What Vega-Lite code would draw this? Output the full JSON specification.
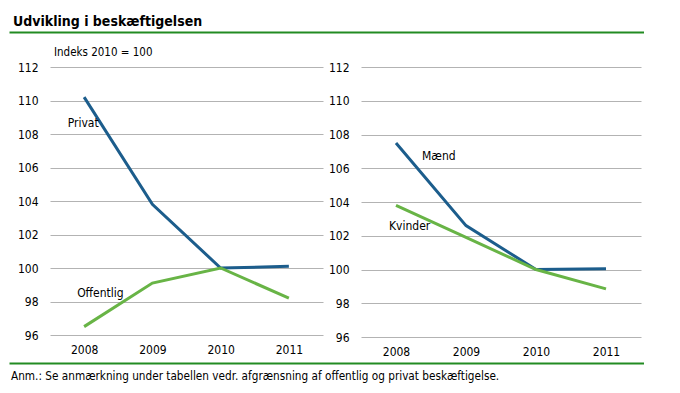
{
  "$schema": "https://vega.github.io/schema/vega-lite/v6.json",
  "background": "white",
  "padding": {"left": 8, "top": 15, "right": 0, "bottom": 0},
  "config": {
    "font": "DejaVu Sans Condensed, Liberation Sans, sans-serif",
    "view": {"stroke": null},
    "axis": {"labelFont": "DejaVu Sans Condensed, Liberation Sans, sans-serif", "labelFontSize": 12, "labelColor": "#000000", "ticks": false, "domain": false, "title": null, "gridColor": "#b3b3b3", "gridWidth": 1},
    "title": {"font": "DejaVu Sans Condensed, Liberation Sans, sans-serif", "color": "#000000"},
    "text": {"font": "DejaVu Sans Condensed, Liberation Sans, sans-serif"}
  },
  "datasets": {
    "beskaeft": [
      {"panel": "Sektor", "serie": "Privat", "aar": "2008", "value": 110.2},
      {"panel": "Sektor", "serie": "Privat", "aar": "2009", "value": 103.8},
      {"panel": "Sektor", "serie": "Privat", "aar": "2010", "value": 100.0},
      {"panel": "Sektor", "serie": "Privat", "aar": "2011", "value": 100.1},
      {"panel": "Sektor", "serie": "Offentlig", "aar": "2008", "value": 96.5},
      {"panel": "Sektor", "serie": "Offentlig", "aar": "2009", "value": 99.1},
      {"panel": "Sektor", "serie": "Offentlig", "aar": "2010", "value": 100.0},
      {"panel": "Sektor", "serie": "Offentlig", "aar": "2011", "value": 98.2},
      {"panel": "Koen", "serie": "Mænd", "aar": "2008", "value": 107.5},
      {"panel": "Koen", "serie": "Mænd", "aar": "2009", "value": 102.6},
      {"panel": "Koen", "serie": "Mænd", "aar": "2010", "value": 100.0},
      {"panel": "Koen", "serie": "Mænd", "aar": "2011", "value": 100.05},
      {"panel": "Koen", "serie": "Kvinder", "aar": "2008", "value": 103.8},
      {"panel": "Koen", "serie": "Kvinder", "aar": "2009", "value": 101.9},
      {"panel": "Koen", "serie": "Kvinder", "aar": "2010", "value": 100.0},
      {"panel": "Koen", "serie": "Kvinder", "aar": "2011", "value": 98.85}
    ],
    "labels": [
      {"panel": "Sektor", "label": "Privat", "aar": "2008", "value": 108.65},
      {"panel": "Sektor", "label": "Offentlig", "aar": "2008", "value": 98.5},
      {"panel": "Koen", "label": "Mænd", "aar": "2008", "value": 106.7},
      {"panel": "Koen", "label": "Kvinder", "aar": "2008", "value": 102.55}
    ]
  },
  "vconcat": [
    {
      "width": 635,
      "height": 1,
      "title": {"text": "Udvikling i beskæftigelsen", "anchor": "start", "frame": "group", "dx": 4, "offset": 2, "fontSize": 14, "fontWeight": "bold"},
      "data": {"name": "labels"},
      "mark": {"type": "rule", "opacity": 0},
      "encoding": {
        "x": {"field": "value", "type": "quantitative", "axis": {"orient": "bottom", "domain": true, "domainColor": "#228b22", "domainWidth": 2, "labels": false, "grid": false, "ticks": false}}
      }
    },
    {
      "vconcat": [
        {
          "hconcat": [
            {
              "width": 3,
              "height": 268,
              "data": {"name": "labels"},
              "mark": {"type": "rule", "opacity": 0},
              "encoding": {}
            },
            {
              "width": 273,
              "height": 268,
              "title": {"text": "Indeks 2010 = 100", "anchor": "start", "frame": "group", "dx": 4, "offset": 3, "fontSize": 11.5, "fontWeight": "normal"},
              "layer": [
                {
                  "data": {"name": "beskaeft"},
                  "transform": [{"filter": "datum.panel == 'Sektor'"}],
                  "mark": {"type": "line", "strokeWidth": 3},
                  "encoding": {
                    "x": {"field": "aar", "type": "ordinal", "scale": {"type": "point", "padding": 0.5}, "axis": {"labelAngle": 0, "labelPadding": 9, "grid": false}},
                    "y": {"field": "value", "type": "quantitative", "scale": {"domain": [96, 112], "nice": false, "zero": false}, "axis": {"values": [96, 98, 100, 102, 104, 106, 108, 110, 112], "tickCount": 12, "labelPadding": 12}},
                    "color": {"field": "serie", "type": "nominal", "scale": {"domain": ["Privat", "Offentlig", "Mænd", "Kvinder"], "range": ["#1c5d8c", "#68b446", "#1c5d8c", "#68b446"]}, "legend": null}
                  }
                },
                {
                  "mark": {"type": "rule", "color": "#000000", "strokeWidth": 1.5},
                  "encoding": {"y": {"datum": 100}}
                },
                {
                  "data": {"name": "labels"},
                  "transform": [{"filter": "datum.label == 'Privat'"}],
                  "mark": {"type": "text", "fontSize": 12, "align": "center", "baseline": "middle", "dx": -1},
                  "encoding": {"x": {"field": "aar", "type": "ordinal"}, "y": {"field": "value", "type": "quantitative"}, "text": {"field": "label"}}
                },
                {
                  "data": {"name": "labels"},
                  "transform": [{"filter": "datum.label == 'Offentlig'"}],
                  "mark": {"type": "text", "fontSize": 12, "align": "left", "baseline": "middle", "dx": -7},
                  "encoding": {"x": {"field": "aar", "type": "ordinal"}, "y": {"field": "value", "type": "quantitative"}, "text": {"field": "label"}}
                }
              ]
            },
            {
              "width": 280,
              "height": 270,
              "layer": [
                {
                  "data": {"name": "beskaeft"},
                  "transform": [{"filter": "datum.panel == 'Koen'"}],
                  "mark": {"type": "line", "strokeWidth": 3},
                  "encoding": {
                    "x": {"field": "aar", "type": "ordinal", "scale": {"type": "point", "padding": 0.5}, "axis": {"labelAngle": 0, "labelPadding": 9, "grid": false}},
                    "y": {"field": "value", "type": "quantitative", "scale": {"domain": [96, 112], "nice": false, "zero": false}, "axis": {"values": [96, 98, 100, 102, 104, 106, 108, 110, 112], "tickCount": 12, "labelPadding": 12}},
                    "color": {"field": "serie", "type": "nominal", "scale": {"domain": ["Privat", "Offentlig", "Mænd", "Kvinder"], "range": ["#1c5d8c", "#68b446", "#1c5d8c", "#68b446"]}, "legend": null}
                  }
                },
                {
                  "mark": {"type": "rule", "color": "#000000", "strokeWidth": 1.5},
                  "encoding": {"y": {"datum": 100}}
                },
                {
                  "data": {"name": "labels"},
                  "transform": [{"filter": "datum.label == 'Mænd'"}],
                  "mark": {"type": "text", "fontSize": 12, "align": "left", "baseline": "middle", "dx": 26},
                  "encoding": {"x": {"field": "aar", "type": "ordinal"}, "y": {"field": "value", "type": "quantitative"}, "text": {"field": "label"}}
                },
                {
                  "data": {"name": "labels"},
                  "transform": [{"filter": "datum.label == 'Kvinder'"}],
                  "mark": {"type": "text", "fontSize": 12, "align": "left", "baseline": "middle", "dx": -7},
                  "encoding": {"x": {"field": "aar", "type": "ordinal"}, "y": {"field": "value", "type": "quantitative"}, "text": {"field": "label"}}
                }
              ]
            }
          ],
          "bounds": "flush",
          "spacing": 38
        },
        {
          "width": 635,
          "height": 1,
          "title": {"text": "Anm.: Se anmærkning under tabellen vedr. afgrænsning af offentlig og privat beskæftigelse.", "orient": "bottom", "anchor": "start", "frame": "group", "dx": 2, "offset": 7, "fontSize": 11.7, "fontWeight": "normal"},
          "data": {"name": "labels"},
          "mark": {"type": "rule", "opacity": 0},
          "encoding": {
            "x": {"field": "value", "type": "quantitative", "axis": {"orient": "top", "domain": true, "domainColor": "#228b22", "domainWidth": 2, "labels": false, "grid": false, "ticks": false}}
          }
        }
      ],
      "spacing": 6
    }
  ],
  "spacing": 14
}
